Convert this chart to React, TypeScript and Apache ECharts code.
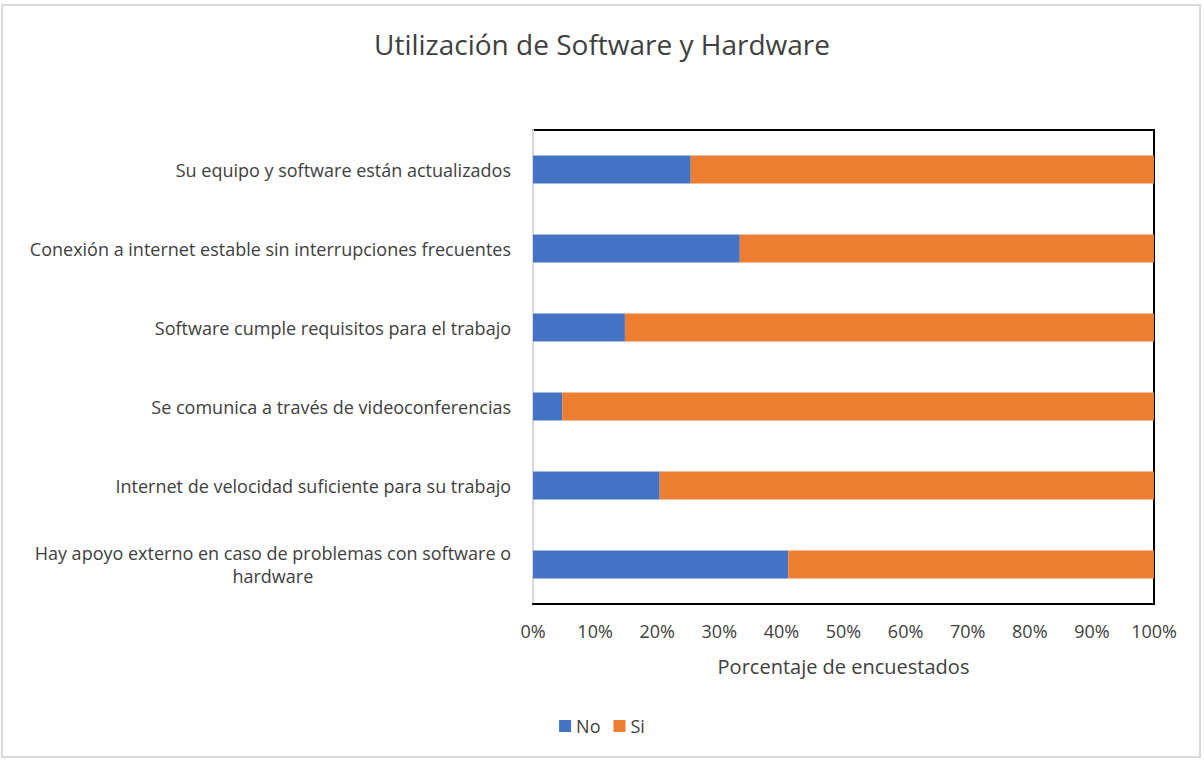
import React, { useEffect, useRef } from "react";
import * as echarts from "echarts";

const categories = [
  "Su equipo y software están actualizados",
  "Conexión a internet estable sin interrupciones frecuentes",
  "Software cumple requisitos para el trabajo",
  "Se comunica a través de videoconferencias",
  "Internet de velocidad suficiente para su trabajo",
  "Hay apoyo externo en caso de problemas con software o\nhardware",
];
const noValues = [25.4, 33.3, 14.8, 4.7, 20.4, 41.1];
const siValues = [74.6, 66.7, 85.2, 95.3, 79.6, 58.9];
const seriesNames = ["No", "Si"];
const xTicks = [0, 10, 20, 30, 40, 50, 60, 70, 80, 90, 100];

const FONT = "'Open Sans', 'Noto Sans', sans-serif";
const TEXT = "#404040";

export default function App() {
  const ref = useRef<HTMLDivElement>(null);
  useEffect(() => {
    document.body.style.margin = "0";
    const chart = echarts.init(ref.current!, null, { renderer: "svg" });
    chart.setOption({
      animation: false,
      backgroundColor: "#fff",
      textStyle: { fontFamily: FONT },
      title: {
        text: "Utilización de Software y Hardware",
        left: "center",
        top: 25,
        textStyle: { fontFamily: FONT, fontSize: 28, fontWeight: "normal", color: TEXT },
      },
      graphic: [
        {
          type: "rect",
          shape: { x: 2, y: 5, width: 1198, height: 752 },
          style: { fill: "none", stroke: "#d9d9d9", lineWidth: 2 },
          silent: true,
          z: 100,
        },
      ],
      legend: {
        data: seriesNames,
        bottom: 20,
        left: "center",
        itemWidth: 12,
        itemHeight: 12,
        itemGap: 13,
        icon: "rect",
        textStyle: { fontFamily: FONT, fontSize: 18, color: TEXT },
      },
      grid: {
        left: 533,
        right: 50,
        top: 130,
        bottom: 156,
        show: true,
        borderColor: "#000",
        borderWidth: 2,
        containLabel: false,
      },
      xAxis: {
        type: "value",
        min: 0,
        max: 100,
        interval: 10,
        axisLabel: {
          formatter: (v: number) => (xTicks.includes(v) ? v + "%" : ""),
          fontFamily: FONT,
          fontSize: 18,
          color: TEXT,
          margin: 18,
        },
        axisLine: { show: true, lineStyle: { color: "#000", width: 2 } },
        axisTick: { show: false },
        splitLine: { show: false },
        name: "Porcentaje de encuestados",
        nameLocation: "middle",
        nameGap: 52,
        nameTextStyle: { fontFamily: FONT, fontSize: 20, color: TEXT },
      },
      yAxis: {
        type: "category",
        data: categories,
        inverse: true,
        axisLine: { show: true, lineStyle: { color: "#d9d9d9", width: 2 } },
        axisTick: { show: false },
        axisLabel: {
          margin: 22,
          fontFamily: FONT,
          fontSize: 18,
          color: TEXT,
          lineHeight: 23,
          formatter: (v: string) =>
            v
              .split("\n")
              .map((l) => "{c|" + l + "}")
              .join("\n"),
          rich: {
            c: { align: "center", fontFamily: FONT, fontSize: 18, color: TEXT, lineHeight: 23 },
          },
        },
      },
      series: [
        {
          name: seriesNames[0],
          type: "bar",
          stack: "total",
          data: noValues,
          barWidth: 28,
          itemStyle: { color: "#4472C4" },
        },
        {
          name: seriesNames[1],
          type: "bar",
          stack: "total",
          data: siValues,
          barWidth: 28,
          itemStyle: { color: "#ED7D31" },
        },
      ],
    });
    return () => chart.dispose();
  }, []);
  return <div ref={ref} style={{ width: 1204, height: 760 }} />;
}
